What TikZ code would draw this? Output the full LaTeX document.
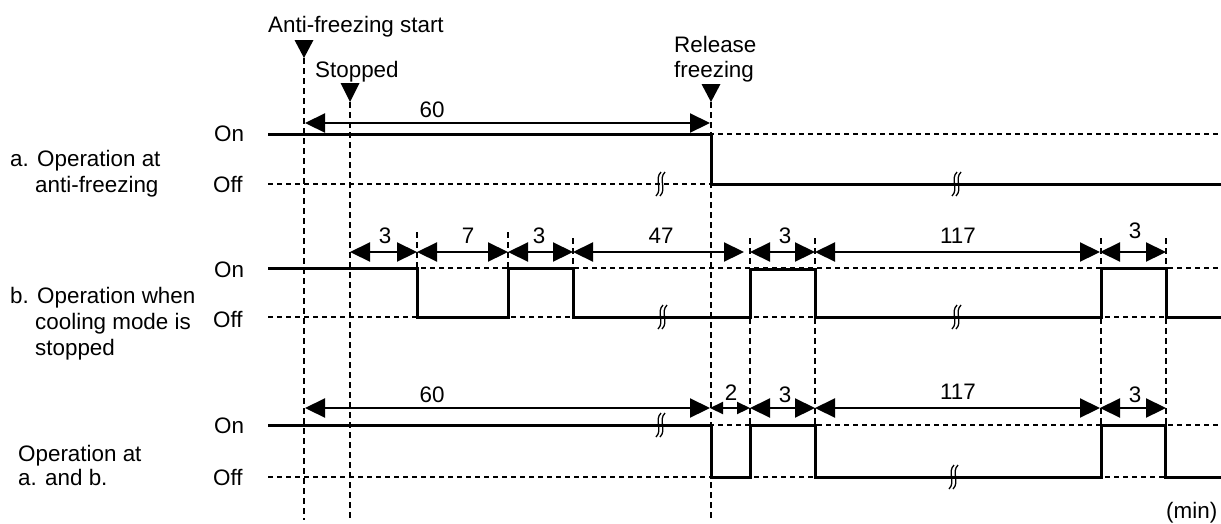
\documentclass[tikz,border=0pt]{standalone}
\usepackage{fontspec}
\setmainfont{Liberation Sans}
\usetikzlibrary{arrows.meta}
\begin{document}
\begin{tikzpicture}[x=1pt,y=-1pt,
 lbl/.style={font=\fontsize{22.4}{26}\selectfont, inner sep=0pt, anchor=base west},
 num/.style={font=\fontsize{22.4}{26}\selectfont, inner sep=0pt, anchor=base},
 wave/.style={line width=3pt, line join=miter, line cap=butt},
 dline/.style={line width=1.5pt, dash pattern=on 5pt off 4pt},
 vline/.style={line width=1.5pt, dash pattern=on 6pt off 4pt},
 dimarrow/.style={line width=2.2pt, {Triangle[length=20pt,width=19pt]}-{Triangle[length=20pt,width=19pt]}},
 dimsmall/.style={line width=2.2pt, {Triangle[length=13pt,width=12pt]}-{Triangle[length=13pt,width=12pt]}},
 tri/.style={fill=black},
 brk/.pic={\draw[line width=1.3pt] (-5,12) .. controls (2,5) and (-7,-5) .. (0,-12);
           \draw[line width=1.3pt] (-1,12) .. controls (6,5) and (-3,-5) .. (4,-12);}
]
\useasboundingbox (0,0) rectangle (1221,523);

% ---------- horizontal dashed reference lines ----------
\foreach \yy in {134,184,268,317,425,477}
  \draw[dline] (268,\yy) -- (1221,\yy);

% ---------- vertical dashed lines ----------
\draw[vline] (304,58) -- (304,520);
\draw[vline] (350,102) -- (350,520);
\draw[vline] (711,102) -- (711,520);
\draw[vline] (417,232) -- (417,268);
\draw[vline] (508,232) -- (508,268);
\draw[vline] (573,238) -- (573,268);
\foreach \xx in {750,815,1101,1166}
  \draw[vline] (\xx,238) -- (\xx,425);

% ---------- markers ----------
\fill[tri] (294.5,40) -- (313.5,40) -- (304,58) -- cycle;
\fill[tri] (340.5,83) -- (359.5,83) -- (350,102) -- cycle;
\fill[tri] (701.5,84) -- (720.5,84) -- (711,102) -- cycle;
\node[lbl] (tstart) at (268,32) {Anti-freezing start};
\node[lbl] (tstop) at (315,77) {Stopped};
\node[lbl] (trel1) at (674,52) {Release};
\node[lbl] (trel2) at (674,77) {freezing};

% ---------- row labels ----------
\node[lbl] (la1) at (10,166) {a. Operation at};
\node[lbl] (la2) at (35,192) {anti-freezing};
\node[lbl] (lb1) at (10,303) {b. Operation when};
\node[lbl] (lb2) at (35,329) {cooling mode is};
\node[lbl] (lb3) at (35,355) {stopped};
\node[lbl] (lc1) at (18,461) {Operation at};
\node[lbl] (lc2) at (18,485) {a. and b.};

\node[lbl] (aon) at (214,141) {On};
\node[lbl] (aoff) at (213,192) {Off};
\node[lbl] (bon) at (214,277) {On};
\node[lbl] (boff) at (213,327) {Off};
\node[lbl] (con) at (214,433) {On};
\node[lbl] (coff) at (213,485) {Off};
\node[lbl] (unit) at (1166,518) {(min)};

% ---------- waveforms ----------
\draw[wave] (268,134) -- (711,134) -- (711,184) -- (1221,184);
\draw[wave] (268,268) -- (417,268) -- (417,317) -- (508,317) -- (508,268) -- (573,268)
   -- (573,317) -- (750,317) -- (750,269) -- (815,269) -- (815,317) -- (1101,317)
   -- (1101,268) -- (1166,268) -- (1166,317) -- (1221,317);
\draw[wave] (268,425) -- (711,425) -- (711,477) -- (750,477) -- (750,425) -- (815,425)
   -- (815,477) -- (1101,477) -- (1101,425) -- (1165,425) -- (1165,477) -- (1221,477);

% ---------- break marks ----------
\pic at (661,184) {brk};
\pic at (957,184) {brk};
\pic at (663,317) {brk};
\pic at (957,317) {brk};
\pic at (661,425) {brk};
\pic at (954,477) {brk};

% ---------- dimension arrows ----------
\coordinate (a0) at (305,123); \coordinate (a1) at (710,123);
\draw[dimarrow] (a0) -- (a1);
\node[num] (na) at (432,117) {60};

\coordinate (b0) at (350,252); \coordinate (b1) at (417,252);
\coordinate (b2) at (508,252); \coordinate (b3) at (573,252);
\coordinate (b4) at (744,252); \coordinate (b5) at (750,252);
\coordinate (b6) at (815,252); \coordinate (b7) at (1100,252);
\coordinate (b8) at (1166,252);
\draw[dimarrow] (b0) -- (b1);
\draw[dimarrow] (b1) -- (b2);
\draw[dimarrow] (b2) -- (b3);
\draw[dimarrow] (b3) -- (b4);
\draw[dimarrow] (b5) -- (b6);
\draw[dimarrow] (b6) -- (b7);
\draw[dimarrow] (b7) -- (b8);
\node[num] (nb1) at (385,243) {3};
\node[num] (nb2) at (468,243) {7};
\node[num] (nb3) at (539,243) {3};
\node[num] (nb4) at (661,243) {47};
\node[num] (nb5) at (785,243) {3};
\node[num] (nb6) at (958,243) {117};
\node[num] (nb7) at (1135,238) {3};

\coordinate (c0) at (305,408); \coordinate (c1) at (710,408);
\coordinate (c2) at (750,408); \coordinate (c3) at (815,408);
\coordinate (c4) at (1100,408); \coordinate (c5) at (1166,408);
\draw[dimarrow] (c0) -- (c1);
\draw[dimsmall] (c1) -- (c2);
\draw[dimarrow] (c2) -- (c3);
\draw[dimarrow] (c3) -- (c4);
\draw[dimarrow] (c4) -- (c5);
\node[num] (nc1) at (432,402) {60};
\node[num] (nc2) at (731,400) {2};
\node[num] (nc3) at (785,402) {3};
\node[num] (nc4) at (958,399) {117};
\node[num] (nc5) at (1135,402) {3};
\end{tikzpicture}
\end{document}
